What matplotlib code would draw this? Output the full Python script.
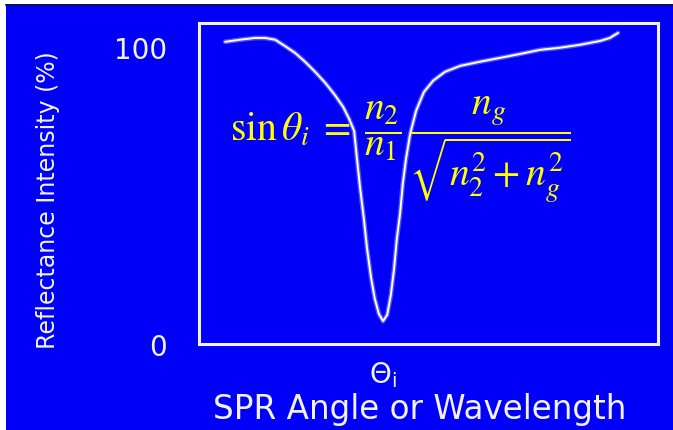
import matplotlib
matplotlib.use("Agg")
import matplotlib.pyplot as plt
from matplotlib.patches import Rectangle
from matplotlib.lines import Line2D

# Curva de ressonancia (SPR): angulo em unidades arbitrarias, refletancia em %
angulo = [5.7, 8.9, 12.2, 14.4, 16.6, 18.7, 20.9, 23.1, 25.3, 27.5, 29.6,
          31.4, 32.7, 33.8, 34.4, 35.1, 35.9, 36.6, 37.5, 38.3, 39.2, 40.1,
          41.0, 41.8, 42.5, 43.1, 43.8, 44.4, 45.1, 46.0, 47.3, 49.0, 51.0,
          53.6, 56.9, 61.2, 65.6, 69.9, 74.3, 78.6, 83.0, 87.4, 89.5, 91.3]
refletancia = [101.7, 102.4, 103.0, 103.0, 102.4, 100.3, 98.0, 95.0, 91.6,
               87.9, 83.8, 79.8, 75.8, 71.7, 62.6, 52.5, 42.4, 32.3, 22.2,
               15.2, 10.1, 7.7, 9.8, 16.5, 25.3, 35.4, 43.8, 53.9, 62.3, 70.7,
               78.5, 84.8, 88.6, 91.6, 93.6, 95.0, 96.3, 97.6, 99.0, 99.7,
               100.7, 102.0, 103.0, 104.7]

yticks = [0, 100]
yticks_txt = ["0", "100"]
theta_spr = 40.1
theta_txt = r"$\Theta_\mathrm{i}$"

azul = "#0000f8"
branco = "#f2f2ff"

fig = plt.figure(figsize=(6.73, 4.31), dpi=100, facecolor="white")

# fundo azul com pequena margem branca em cima e a esquerda
fig.patches.append(Rectangle((6 / 673, 0), 1, (431 - 5) / 431,
                             transform=fig.transFigure, facecolor=azul,
                             edgecolor="none", zorder=-10))
fig.lines.append(Line2D([6 / 673, 1], [(431 - 5.8) / 431] * 2,
                        transform=fig.transFigure, color="#101040", lw=1.2,
                        zorder=-9))

ax = fig.add_axes([199 / 673, (431 - 345) / 431, 459 / 673, 321.5 / 431])
ax.set_facecolor(azul)
ax.set_xlim(0, 100)
ax.set_ylim(0, 108.2)

# brilho + linha principal
ax.plot(angulo, refletancia, color="#a0a0ff", lw=3.4, alpha=0.5,
        solid_capstyle="round", solid_joinstyle="round")
ax.plot(angulo, refletancia, color="white", lw=1.4, solid_capstyle="round",
        solid_joinstyle="round")

for s in ax.spines.values():
    s.set_color(branco)
    s.set_linewidth(2.2)

ax.set_yticks(yticks)
ax.set_yticklabels(yticks_txt)
ax.set_xticks([theta_spr])
ax.set_xticklabels([theta_txt])
ax.tick_params(axis="y", length=0, pad=23, labelsize=20, labelcolor=branco)
ax.tick_params(axis="x", length=0, pad=11, labelsize=20, labelcolor=branco)

ax.set_xlabel("SPR Angle or Wavelength", fontsize=23.5, color=branco)
ax.xaxis.set_label_coords(0.481, -0.150)
ax.set_ylabel("Reflectance Intensity (%)", fontsize=17, color=branco,
              va="center")
ax.yaxis.set_label_coords(-0.329, 0.451)

# equacao da condicao de ressonancia
fig.text(230 / 673, (431 - 150) / 431,
         r"$\sin\theta_i\;=\;\dfrac{n_2}{n_1}\,\dfrac{n_g}{\sqrt{n_2^2+n_g^2}}$",
         color="yellow", fontsize=28.5, ha="left", va="center",
         math_fontfamily="stix")

fig.savefig("out.png", dpi=100, facecolor=fig.get_facecolor())
